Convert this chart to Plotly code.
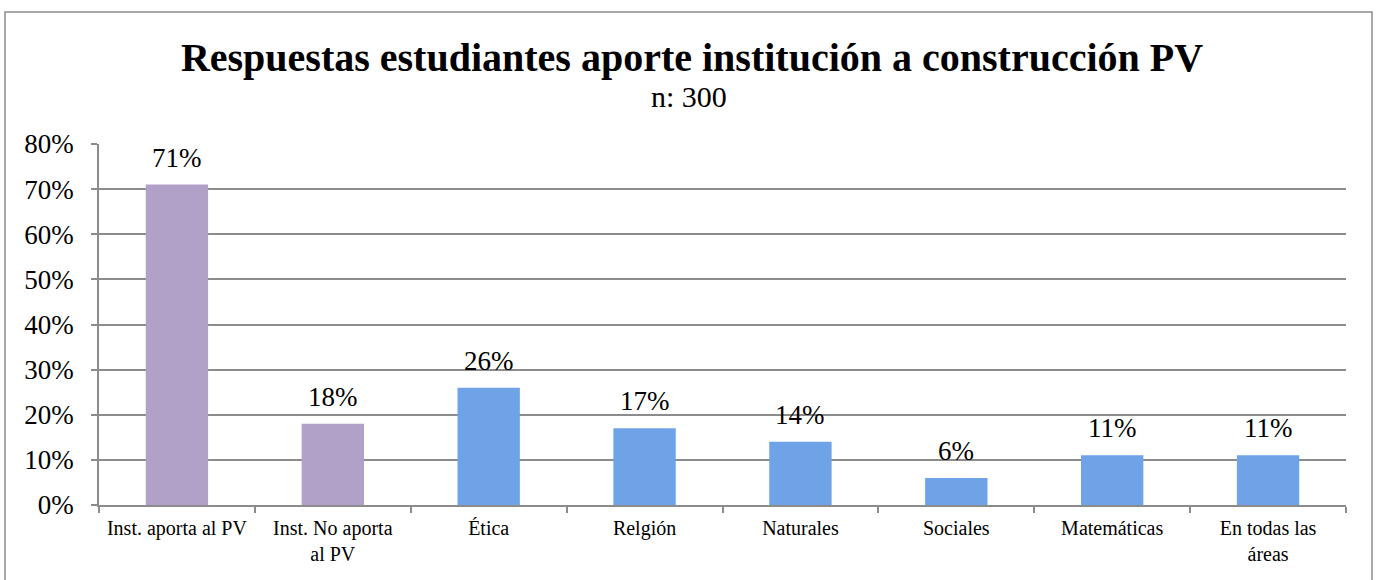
import plotly.graph_objects as go

categories = ["Inst. aporta al PV", "Inst. No aporta<br>al PV", "Ética", "Relgión",
              "Naturales", "Sociales", "Matemáticas", "En todas las<br>áreas"]
values = [0.71, 0.18, 0.26, 0.17, 0.14, 0.06, 0.11, 0.11]
labels = ["71%", "18%", "26%", "17%", "14%", "6%", "11%", "11%"]
bar_colors = ["#B1A0C7", "#B1A0C7", "#6FA3E8", "#6FA3E8",
              "#6FA3E8", "#6FA3E8", "#6FA3E8", "#6FA3E8"]
y_ticks = [0, 0.1, 0.2, 0.3, 0.4, 0.5, 0.6, 0.7, 0.8]
y_ticktext = ["0%", "10%", "20%", "30%", "40%", "50%", "60%", "70%", "80%"]

FONT = "Liberation Serif"

W, H = 1377, 580
ml, mr, mt, mb = 99, 31, 144, 75
pw, ph = W - ml - mr, H - mt - mb

fig = go.Figure()
fig.add_trace(go.Bar(
    x=categories, y=values, marker=dict(color=bar_colors, line=dict(width=0)),
    width=0.4, hoverinfo="x+y", showlegend=False,
))

for c, v, t in zip(categories, values, labels):
    fig.add_annotation(x=c, y=v, text=t, showarrow=False, yanchor="middle",
                       yshift=27, font=dict(family=FONT, size=27, color="#000"))

fig.add_annotation(xref="paper", yref="paper", x=(689 - ml) / pw, y=(H - mb - 97) / ph,
                   text="n: 300", showarrow=False, xanchor="center", yanchor="middle",
                   font=dict(family=FONT, size=30, color="#000"))

fig.update_layout(
    width=W, height=H,
    margin=dict(l=ml, r=mr, t=mt, b=mb),
    paper_bgcolor="white", plot_bgcolor="white",
    font=dict(family=FONT, color="#000"),
    title=dict(
        text="<b>Respuestas estudiantes aporte institución a construcción PV</b>",
        x=692 / W, xanchor="center", y=1 - 57 / H, yanchor="middle",
        font=dict(family=FONT, size=40, color="#000"),
    ),
    xaxis=dict(
        showline=True, linecolor="#8C8C8C", linewidth=1.5,
        ticks="outside", ticklen=6, tickcolor="#8C8C8C", tickwidth=1.5,
        tickson="boundaries", showgrid=False,
        tickfont=dict(family=FONT, size=20, color="#000"),
        ticklabelstandoff=4,
        fixedrange=True,
    ),
    yaxis=dict(
        range=[0, 0.8], tickvals=y_ticks, ticktext=y_ticktext,
        showline=True, linecolor="#8C8C8C", linewidth=1.5,
        ticks="outside", ticklen=6, tickcolor="#8C8C8C", tickwidth=1.5,
        showgrid=True, gridcolor="#8C8C8C", gridwidth=1.5,
        zeroline=False,
        tickfont=dict(family=FONT, size=27, color="#000"),
        ticklabelstandoff=12,
        fixedrange=True,
    ),
)

# outer chart frame
fig.add_shape(type="rect", xref="paper", yref="paper",
              x0=(5 - ml) / pw, x1=(1372 - ml) / pw,
              y0=(H - mb - 600) / ph, y1=(H - mb - 12) / ph,
              line=dict(color="#8C8C8C", width=1.5), fillcolor="rgba(0,0,0,0)",
              layer="below")

fig.write_html("out.html", config={"displayModeBar": False},
               post_script="document.body.style.margin='0';document.body.style.overflow='hidden';")
